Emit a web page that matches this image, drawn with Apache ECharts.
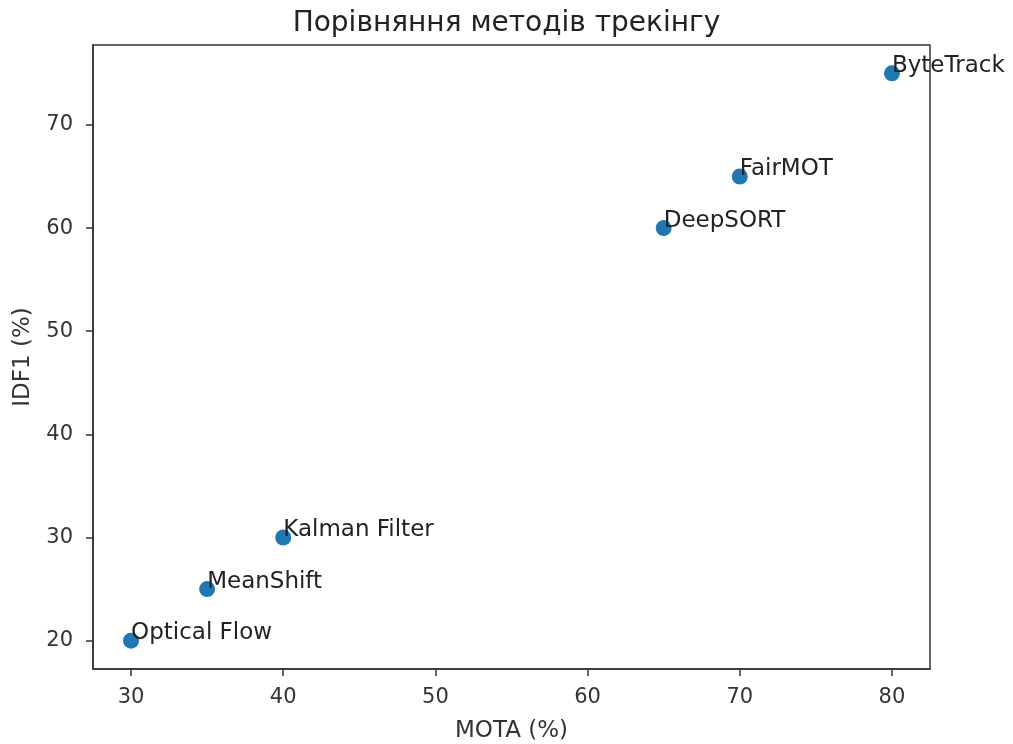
<!DOCTYPE html>
<html>
<head>
<meta charset="utf-8">
<script src="https://cdn.jsdelivr.net/npm/echarts@6/dist/echarts.min.js"></script>
<style>
  html, body { margin: 0; padding: 0; background: #fff; }
  #chart { width: 1013px; height: 744px; }
</style>
</head>
<body>
<div id="chart"></div>
<script>
// Tracking methods compared by MOTA and IDF1
const methods = ['Optical Flow', 'MeanShift', 'Kalman Filter', 'DeepSORT', 'FairMOT', 'ByteTrack'];
const mota = [30, 35, 40, 65, 70, 80];
const idf1 = [20, 25, 30, 60, 65, 75];
const xTicks = [30, 40, 50, 60, 70, 80];
const yTicks = [20, 30, 40, 50, 60, 70];

const points = methods.map((name, i) => ({ name: name, value: [mota[i], idf1[i]] }));

const font = 'DejaVu Sans, sans-serif';
const chart = echarts.init(document.getElementById('chart'), null, { renderer: 'canvas' });

const axisCommon = {
  type: 'value',
  splitLine: { show: false },
  axisLine: { show: true, onZero: false, lineStyle: { color: '#333', width: 1.5 } },
  axisTick: { show: true, length: 7, lineStyle: { color: '#333', width: 1.5 } },
  nameLocation: 'middle',
  nameTextStyle: { fontFamily: font, fontSize: 23, color: '#333' }
};

chart.setOption({
  animation: false,
  title: {
    text: 'Порівняння методів трекінгу',
    left: 'center',
    top: 5,
    textStyle: { fontFamily: font, fontSize: 28, fontWeight: 'normal', color: '#222' }
  },
  grid: {
    left: 93, right: 83, top: 45, bottom: 75,
    outerBoundsMode: 'none',
    containLabel: false,
    show: true, borderColor: '#333', borderWidth: 1.5, backgroundColor: '#fff'
  },
  xAxis: Object.assign({}, axisCommon, {
    min: 27.5, max: 82.5,
    name: 'MOTA (%)', nameGap: 51,
    axisTick: Object.assign({}, axisCommon.axisTick, { customValues: xTicks }),
    axisLabel: { customValues: xTicks, fontFamily: font, fontSize: 21, color: '#333', margin: 18 }
  }),
  yAxis: Object.assign({}, axisCommon, {
    min: 17.25, max: 77.75,
    name: 'IDF1 (%)', nameGap: 58,
    axisTick: Object.assign({}, axisCommon.axisTick, { customValues: yTicks }),
    axisLabel: { customValues: yTicks, fontFamily: font, fontSize: 21, color: '#333', margin: 20 }
  }),
  series: [{
    type: 'scatter',
    data: points,
    symbolSize: 16,
    itemStyle: { color: '#1f77b4', opacity: 1 },
    label: {
      show: true,
      formatter: p => p.name,
      position: [8, 12],
      align: 'left',
      verticalAlign: 'bottom',
      fontFamily: font,
      fontSize: 23,
      color: '#222'
    },
    labelLayout: { hideOverlap: false }
  }]
});
</script>
</body>
</html>
